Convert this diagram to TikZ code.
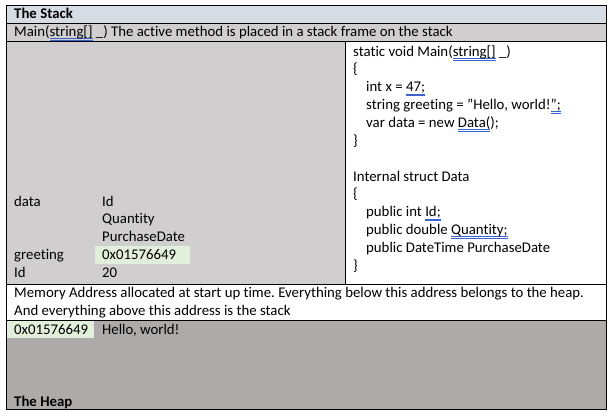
\documentclass[tikz,border=0pt]{standalone}
\usepackage{fontspec}
\setmainfont[Ligatures={NoCommon,NoContextual}]{Carlito}
\frenchspacing

\definecolor{titlebg}{HTML}{D6DCE4}
\definecolor{framebg}{HTML}{D0CECE}
\definecolor{heapbg}{HTML}{AEAAAA}
\definecolor{addrbg}{HTML}{E2EFDA}
\definecolor{gramblue}{HTML}{3A62D0}

% blue double underline (grammar mark)
\newsavebox\grmbox
\newcommand\grm[1]{\sbox\grmbox{#1}%
  \rlap{\textcolor{gramblue}{\rule[-2.6pt]{\wd\grmbox}{0.7pt}}}%
  \rlap{\textcolor{gramblue}{\rule[-4.4pt]{\wd\grmbox}{0.7pt}}}%
  \usebox\grmbox}

\tikzset{
  txt/.style={inner sep=0pt, anchor=base west, font=\fontsize{14.8}{17.85}\selectfont},
  hdr/.style={txt, font=\fontsize{14.8}{17.85}\selectfont\bfseries},
}

\begin{document}
\begin{tikzpicture}[x=1pt, y=-1pt]
  \useasboundingbox (0,0) rectangle (613,416);

  % backgrounds
  \fill[titlebg] (6,5) rectangle (606,23);
  \fill[framebg] (6,23) rectangle (606,41);
  \fill[framebg] (6,41) rectangle (345,284);
  \fill[heapbg] (6,320) rectangle (606,409);
  \fill[addrbg] (95,246) rectangle (190,264);
  \fill[addrbg] (6,320) rectangle (94,338);

  % grid lines
  \draw[line width=0.9pt] (6,5) rectangle (606,409);
  \draw[line width=0.9pt] (6,23) -- (606,23);
  \draw[line width=0.9pt] (6,41) -- (606,41);
  \draw[line width=0.9pt] (345,41) -- (345,284);
  \draw[line width=0.9pt] (6,284) -- (606,284);
  \draw[line width=0.9pt] (6,320) -- (606,320);

  % stack header
  \node[hdr] (stack) at (14,18) {The Stack};
  \node[txt] (frame) at (14,36.5) {Main(\grm{string[]} \_) The active method is placed in a stack frame on the stack};

  % source code
  \node[txt] (c1) at (353,56) {static void Main(\grm{string[]} \_)};
  \node[txt] (c2) at (353,73.85) {\{};
  \node[txt] (c3) at (366,91.7) {int x = \grm{47;}};
  \node[txt] (c4) at (366,109.55) {string greeting = "Hello, world!\grm{";}};
  \node[txt] (c5) at (366,127.4) {var data = new \grm{Data(});};
  \node[txt] (c6) at (353,145.25) {\}};
  \node[txt] (c8) at (353,181) {Internal struct Data};
  \node[txt] (c9) at (353,198.8) {\{};
  \node[txt] (c10) at (366,216.65) {public int \grm{Id;}};
  \node[txt] (c11) at (366,234.5) {public double \grm{Quantity;}};
  \node[txt] (c12) at (366,252.35) {public DateTime PurchaseDate};
  \node[txt] (c13) at (353,270.2) {\}};

  % stack frame values
  \node[txt] (data) at (14,206) {data};
  \node[txt] (dataid) at (102,206) {Id};
  \node[txt] (dataqty) at (102,223.85) {Quantity};
  \node[txt] (datadate) at (102,241.7) {PurchaseDate};
  \node[txt] (greet) at (14,259.55) {greeting};
  \node[txt] (greetaddr) at (102,259.55) {0x01576649};
  \node[txt] (id) at (14,277.4) {Id};
  \node[txt] (idval) at (102,277.4) {20};

  % boundary note
  \node[txt] (note1) at (14,297.5) {Memory Address allocated at start up time. Everything below this address belongs to the heap.};
  \node[txt] (note2) at (14,315.4) {And everything above this address is the stack};

  % heap
  \node[txt] (heapaddr) at (14,334) {0x01576649};
  \node[txt] (hello) at (102,334) {Hello, world!};
  \node[hdr] (heap) at (14,406) {The Heap};
\end{tikzpicture}
\end{document}
